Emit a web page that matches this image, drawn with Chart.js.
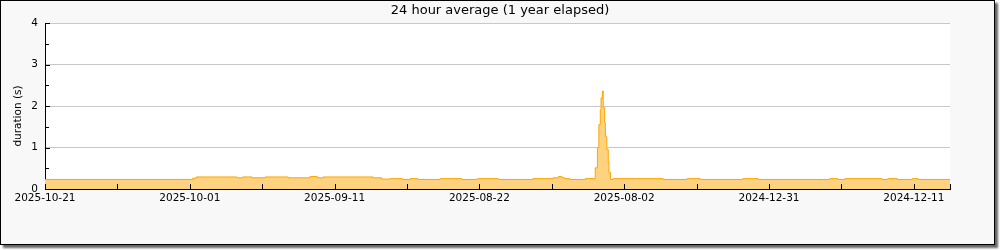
<!DOCTYPE html>
<html>
<head>
<meta charset="utf-8">
<script src="https://cdn.jsdelivr.net/npm/chart.js@4/dist/chart.umd.min.js"></script>
<style>
    body { margin: 0; background: #fff; }
    .frame {
        position: absolute; left: 0; top: 0;
        width: 995px; height: 245px; box-sizing: border-box;
        border: 1px solid #000; background: #f8f8f8;
        box-shadow: 3px 3px 2px #666;
    }
    #chart { position: absolute; left: 0; top: 0; }
</style>
</head>
<body>
<div class="frame"></div>
<canvas id="chart" width="1000" height="250"></canvas>
<script>
// days from left edge of plot, value starts at that offset
const dayOffsets = [0, 20.4, 20.9, 26.5, 27.3, 28.6, 30.4, 33.6, 36.6, 37.6, 38.4, 45.3, 46.5, 47.7, 49.4, 50.4,
    51.5, 54.6, 57.6, 59.7, 62.6, 67.4, 70.2, 70.9, 71.4, 71.8, 72.5, 74.6, 76.0, 76.3, 76.5, 76.7, 76.8, 77.0,
    77.1, 77.3, 77.4, 77.6, 77.8, 77.9, 78.1, 78.5, 85.4, 88.7, 90.5, 96.4, 98.5, 108.4, 109.5, 110.5, 115.6,
    116.4, 117.7, 119.8, 120.6, 125];
const durations = [0.23, 0.26, 0.29, 0.27, 0.29, 0.27, 0.29, 0.27, 0.30, 0.27, 0.29, 0.27, 0.24, 0.25, 0.23, 0.25,
    0.23, 0.25, 0.23, 0.25, 0.23, 0.25, 0.27, 0.30, 0.27, 0.25, 0.23, 0.25, 0.51, 1.0, 1.55, 1.91, 2.2, 2.36,
    1.96, 1.6, 1.26, 0.95, 0.64, 0.4, 0.23, 0.25, 0.23, 0.25, 0.23, 0.25, 0.23, 0.25, 0.23, 0.25, 0.23,
    0.25, 0.23, 0.25, 0.23, 0.23];
const xTickLabels = ['2025-10-21', '2025-10-01', '2025-09-11', '2025-08-22', '2025-08-02', '2024-12-31', '2024-12-11'];
const yTickLabels = ['0', '1', '2', '3', '4'];

const font = { family: '"DejaVu Sans", sans-serif', size: 10.5 };

const plotBackground = {
    id: 'plotBackground',
    beforeDraw(chart) {
        const { ctx, chartArea: a } = chart;
        ctx.save();
        ctx.fillStyle = '#fff';
        ctx.fillRect(a.left, a.top, a.right - a.left, a.bottom - a.top);
        ctx.restore();
    },
};

// tick marks pointing into the plot
const innerTicks = {
    id: 'innerTicks',
    afterDatasetsDraw(chart) {
        const { ctx, chartArea: a, scales: { x, y } } = chart;
        ctx.save();
        ctx.strokeStyle = '#000';
        ctx.lineWidth = 1;
        ctx.beginPath();
        y.ticks.forEach((t) => {
            const py = Math.round(y.getPixelForValue(t.value)) + 0.5;
            const len = Number.isInteger(t.value) ? 5 : 4;
            ctx.moveTo(a.left, py);
            ctx.lineTo(a.left + len, py);
        });
        x.ticks.forEach((t) => {
            const px = Math.round(x.getPixelForValue(t.value)) + 0.5;
            ctx.moveTo(px, a.bottom);
            ctx.lineTo(px, a.bottom - 5);
        });
        ctx.stroke();
        ctx.restore();
    },
};

new Chart(document.getElementById('chart'), {
    type: 'line',
    data: {
        datasets: [{
            data: dayOffsets.map((d, i) => ({ x: d, y: durations[i] })),
            stepped: 'before',
            fill: 'origin',
            backgroundColor: '#ffd280',
            borderColor: '#ffa500',
            borderWidth: 1,
            pointRadius: 0,
        }],
    },
    options: {
        responsive: false,
        animation: false,
        devicePixelRatio: 1,
        layout: { padding: 0 },
        plugins: {
            legend: { display: false },
            tooltip: { enabled: false },
            title: {
                display: true,
                text: '24 hour average (1 year elapsed)',
                color: '#000',
                font: { family: '"DejaVu Sans", sans-serif', size: 13, weight: 'normal' },
                padding: { top: 3, bottom: 4.4 },
            },
        },
        scales: {
            x: {
                type: 'linear',
                min: 0,
                max: 125,
                afterFit: (s) => { s.height = 61; },
                ticks: {
                    stepSize: 10,
                    autoSkip: false,
                    maxRotation: 0,
                    padding: 3,
                    color: '#000',
                    font,
                    callback: (v) => (v % 20 === 0 ? xTickLabels[v / 20] : ''),
                },
                grid: { display: false, drawTicks: false },
                border: { color: '#000', width: 1 },
            },
            y: {
                min: 0,
                max: 4,
                afterFit: (s) => { s.width = 45; },
                ticks: {
                    stepSize: 0.5,
                    padding: 7,
                    color: '#000',
                    font,
                    callback: (v) => (Number.isInteger(v) ? yTickLabels[v] : ''),
                },
                grid: {
                    drawTicks: false,
                    color: (c) => (Number.isInteger(c.tick.value) && c.tick.value > 0 ? '#c8c8c8' : 'rgba(0,0,0,0)'),
                },
                border: { color: '#000', width: 1 },
                title: {
                    display: true,
                    text: 'duration (s)      ',
                    color: '#000',
                    font: { family: '"DejaVu Sans", sans-serif', size: 10.5 },
                    padding: { top: 12, bottom: 0 },
                },
            },
            // empty right-hand strip so the plot stops at x=950
            yRight: {
                position: 'right',
                min: 0,
                max: 4,
                afterFit: (s) => { s.width = 50; },
                ticks: { display: false },
                grid: { display: false, drawTicks: false },
                border: { display: false },
            },
        },
    },
    plugins: [plotBackground, innerTicks],
});
</script>
</body>
</html>
